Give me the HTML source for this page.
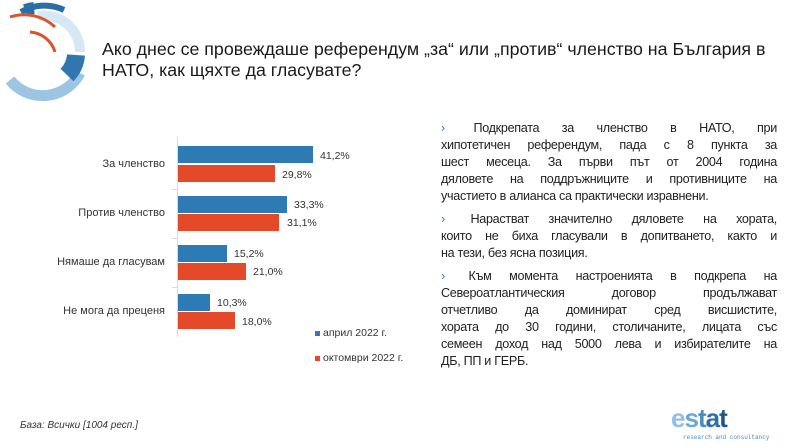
<!DOCTYPE html>
<html><head><meta charset="utf-8"><style>
body{margin:0;width:797px;height:448px;background:#fff;position:relative;overflow:hidden;font-family:"Liberation Sans","Noto Sans CJK SC",sans-serif;color:#222}
.abs{position:absolute}
.title{left:102px;top:39px;font-size:17.8px;line-height:21px;white-space:nowrap;color:#1a1a1a}
.lbl{position:absolute;right:632px;font-size:11px;color:#333;white-space:nowrap;transform:translateY(-50%)}
.bar{position:absolute;left:178px;height:17px}
.b{background:#2e7ab5}.r{background:#e4492a}
.val{position:absolute;font-size:10.5px;color:#333;transform:translateY(-50%)}
.txt{left:441px;width:336px;font-size:12.6px;line-height:17px;color:#222;letter-spacing:-0.3px}
.ln{text-align:justify;text-align-last:justify;white-space:nowrap}
.ln.l{text-align-last:left}
.ch{color:#2e7ab5;margin-right:6px}
</style></head><body>
<svg class="abs" style="left:0;top:0" width="100" height="104" viewBox="0 0 100 104">
<path d="M38 16 A36 36 0 0 1 80 52" stroke="#d6e8f5" stroke-width="10" fill="none"/>
<path d="M80 73 A42 42 0 0 1 10 80" stroke="#9cc5e4" stroke-width="11" fill="none"/>
<path d="M76 55 A32 32 0 0 1 67 75" stroke="#2f77ae" stroke-width="18" fill="none"/>
<path d="M21 12 A46 46 0 0 1 64 10" stroke="#2a6ea6" stroke-width="6" fill="none"/>
<path d="M25 10 A40 40 0 0 1 34 8" stroke="#2a6ea6" stroke-width="12" fill="none"/>
<path d="M10 17 A45 45 0 0 1 55 27" stroke="#d9542c" stroke-width="3" fill="none"/>
<path d="M30 32 A28 28 0 0 1 55 52" stroke="#d9542c" stroke-width="3" fill="none"/>
</svg>
<div class="abs title">Ако днес се провеждаше референдум „за“ или „против“ членство на България в<br>НАТО, как щяхте да гласувате?</div>

<div class="abs" style="left:177px;top:137px;width:1px;height:200px;background:#d9d9d9"></div>
<div class="abs" style="left:172px;top:189px;width:5px;height:1px;background:#d9d9d9"></div>
<div class="abs" style="left:172px;top:238px;width:5px;height:1px;background:#d9d9d9"></div>
<div class="abs" style="left:172px;top:287px;width:5px;height:1px;background:#d9d9d9"></div>

<div class="lbl" style="top:164px">За членство</div>
<div class="lbl" style="top:213px">Против членство</div>
<div class="lbl" style="top:262px">Нямаше да гласувам</div>
<div class="lbl" style="top:311px">Не мога да преценя</div>

<div class="bar b" style="top:146px;width:135px"></div>
<div class="bar r" style="top:165px;width:97px"></div>
<div class="bar b" style="top:196px;width:109px"></div>
<div class="bar r" style="top:214px;width:101px"></div>
<div class="bar b" style="top:245px;width:49px"></div>
<div class="bar r" style="top:263px;width:68px"></div>
<div class="bar b" style="top:294px;width:32px"></div>
<div class="bar r" style="top:312px;width:57px"></div>

<div class="val" style="left:320px;top:156px">41,2%</div>
<div class="val" style="left:282px;top:175px">29,8%</div>
<div class="val" style="left:294px;top:205px">33,3%</div>
<div class="val" style="left:287px;top:223px">31,1%</div>
<div class="val" style="left:234px;top:254px">15,2%</div>
<div class="val" style="left:253px;top:272px">21,0%</div>
<div class="val" style="left:217px;top:303px">10,3%</div>
<div class="val" style="left:242px;top:322px">18,0%</div>

<div class="abs" style="left:315px;top:331px;width:5px;height:5px;background:#2e7ab5"></div>
<div class="abs" style="left:323px;top:327px;font-size:10.5px;color:#333">април 2022 г.</div>
<div class="abs" style="left:315px;top:356px;width:5px;height:5px;background:#e4492a"></div>
<div class="abs" style="left:323px;top:352px;font-size:10.5px;color:#333">октомври 2022 г.</div>

<div class="abs txt" style="top:120px">
<div class="ln"><span class="ch">›</span> Подкрепата за членство в НАТО, при</div>
<div class="ln">хипотетичен референдум, пада с 8 пункта за</div>
<div class="ln">шест месеца. За първи път от 2004 година</div>
<div class="ln">дяловете на поддръжниците и противниците на</div>
<div class="ln l">участието в алианса са практически изравнени.</div>
<div style="height:6px"></div>
<div class="ln"><span class="ch">›</span> Нарастват значително дяловете на хората,</div>
<div class="ln">които не биха гласували в допитването, както и</div>
<div class="ln l">на тези, без ясна позиция.</div>
<div style="height:6px"></div>
<div class="ln"><span class="ch">›</span> Към момента настроенията в подкрепа на</div>
<div class="ln">Североатлантическия договор продължават</div>
<div class="ln">отчетливо да доминират сред висшистите,</div>
<div class="ln">хората до 30 години, столичаните, лицата със</div>
<div class="ln">семеен доход над 5000 лева и избирателите на</div>
<div class="ln l">ДБ, ПП и ГЕРБ.</div>
</div>

<div class="abs" style="left:20px;top:420px;font-size:10px;font-style:italic;color:#333">База: Всички [1004 респ.]</div>

<div class="abs" style="left:671px;top:405px;font-size:26px;font-weight:bold;letter-spacing:-1px;color:#4a90c8;line-height:26px">
<span style="color:#8fc0e6">e</span><span style="color:#6aa8d8">s</span><span style="color:#4a8cc4">t</span><span style="color:#2f6ea8">a</span><span style="color:#1f5588">t</span></div>
<div class="abs" style="left:683px;top:434px;font-size:6px;color:#4a8cc4;font-family:'Liberation Mono',monospace">research and consultancy</div>
</body></html>
